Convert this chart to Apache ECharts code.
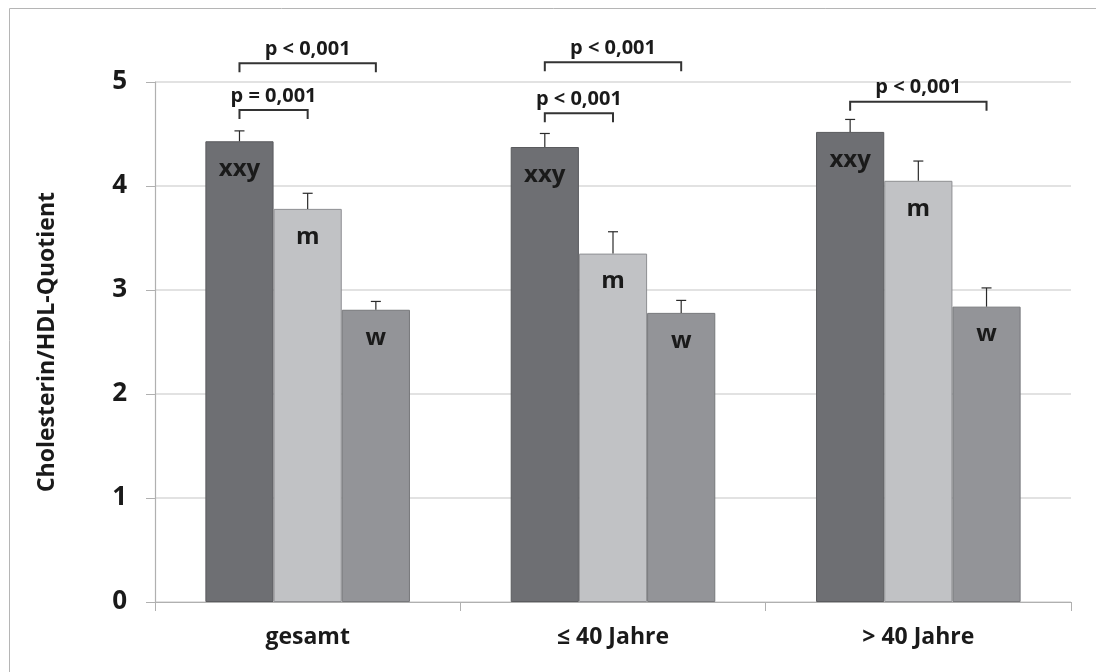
<!DOCTYPE html>
<html><head><meta charset="utf-8">
<script src="https://cdn.jsdelivr.net/npm/echarts@6/dist/echarts.min.js"></script>
<style>html,body{margin:0;padding:0;background:#fff}#c{width:1096px;height:672px}</style>
</head><body><div id="c"></div>
<script>
const categories = ['gesamt', '≤ 40 Jahre', '> 40 Jahre'];
const groupNames = ['xxy', 'm', 'w'];
const xxyValues = [4.43, 4.375, 4.52];
const mValues = [3.78, 3.35, 4.05];
const wValues = [2.81, 2.78, 2.84];
const xxyErr = [0.10, 0.13, 0.12];
const mErr = [0.15, 0.21, 0.19];
const wErr = [0.08, 0.12, 0.18];
const yTicks = [0, 1, 2, 3, 4, 5];
// brackets: [category index, from bar index, to bar index, y value, label]
const brackets = [
  [0, 0, 2, 5.18, 'p < 0,001'],
  [0, 0, 1, 4.73, 'p = 0,001'],
  [1, 0, 2, 5.19, 'p < 0,001'],
  [1, 0, 1, 4.70, 'p < 0,001'],
  [2, 0, 2, 4.81, 'p < 0,001']
];

const FONT = '"Open Sans"';
const colors = ['#6e6f73', '#c1c2c5', '#939498'];
const borders = ['#5a5b5e', '#8e8f92', '#77787b'];
const valueSets = [xxyValues, mValues, wValues];
const errSets = [xxyErr, mErr, wErr];
const CAT_GAP = 0.33;

function barCenter(api, cat, idx) {
  const c = api.coord([cat, 0])[0];
  const band = api.size([1, 0])[0];
  const bw = band * (1 - CAT_GAP) / 3;
  return c + (idx - 1) * bw;
}

const series = [];
valueSets.forEach((vals, i) => {
  series.push({
    type: 'bar', name: groupNames[i], data: vals,
    barGap: '0%', barCategoryGap: (CAT_GAP * 100) + '%',
    itemStyle: { color: colors[i], borderColor: borders[i], borderWidth: 1 },
    label: {
      show: true, position: 'insideTop', distance: 16,
      formatter: groupNames[i], fontFamily: FONT, fontWeight: 'bold',
      fontSize: 24, color: '#1a1a1a'
    },
    z: 2
  });
});
valueSets.forEach((vals, i) => {
  series.push({
    type: 'custom', name: 'err' + i, clip: false, z: 3,
    data: vals.map((v, k) => [k, v, v + errSets[i][k]]),
    renderItem: function (params, api) {
      const cat = api.value(0);
      const x = barCenter(api, cat, i);
      const y0 = api.coord([cat, api.value(1)])[1];
      const y1 = api.coord([cat, api.value(2)])[1];
      const st = { stroke: '#2a2a2a', lineWidth: 1.2 };
      return { type: 'group', children: [
        { type: 'line', shape: { x1: x, y1: y0, x2: x, y2: y1 }, style: st },
        { type: 'line', shape: { x1: x - 5, y1: y1, x2: x + 5, y2: y1 }, style: st }
      ]};
    }
  });
});
series.push({
  type: 'custom', name: 'brackets', clip: false, z: 4,
  data: brackets.map(b => [b[0], b[1], b[2], b[3], b[4]]),
  renderItem: function (params, api) {
    const b = brackets[params.dataIndex];
    const cat = b[0];
    const xa = barCenter(api, cat, b[1]);
    const xb = barCenter(api, cat, b[2]);
    const y = api.coord([cat, b[3]])[1];
    const st = { stroke: '#333333', lineWidth: 2, fill: null };
    return { type: 'group', children: [
      { type: 'polyline', shape: { points: [[xa, y + 9], [xa, y], [xb, y], [xb, y + 9]] }, style: st },
      { type: 'text', style: { x: (xa + xb) / 2, y: y - 4, text: b[4], textAlign: 'center', textVerticalAlign: 'bottom',
        fontFamily: FONT, fontWeight: 'bold', fontSize: 20, fill: '#1a1a1a' } }
    ]};
  }
});

const chart = echarts.init(document.getElementById('c'));
chart.setOption({
  animation: false,
  graphic: [{ type: 'rect', shape: { x: 9.5, y: 8.5, width: 1200, height: 800 },
    style: { fill: null, stroke: '#b5b5b5', lineWidth: 1 }, silent: true, z: -10 }],
  grid: { left: 155, right: 25, top: 82, bottom: 70 },
  xAxis: {
    type: 'category', data: categories,
    axisLine: { lineStyle: { color: '#b0b0b0', width: 1.2 } },
    axisTick: { show: true, length: 9, lineStyle: { color: '#b0b0b0' } },
    axisLabel: { fontFamily: FONT, fontWeight: 'bold', fontSize: 23, color: '#1a1a1a', margin: 24 }
  },
  yAxis: {
    type: 'value', min: yTicks[0], max: yTicks[yTicks.length - 1], interval: 1,
    name: 'Cholesterin/HDL-Quotient', nameLocation: 'middle', nameGap: 96, nameRotate: 90,
    nameTextStyle: { fontFamily: FONT, fontWeight: 'bold', fontSize: 23, color: '#1a1a1a' },
    axisLine: { show: true, lineStyle: { color: '#b0b0b0', width: 1.2 } },
    axisTick: { show: true, length: 9, lineStyle: { color: '#b0b0b0' } },
    axisLabel: { fontFamily: FONT, fontWeight: 'bold', fontSize: 26, color: '#1a1a1a', margin: 28 },
    splitLine: { lineStyle: { color: '#d9d9d9', width: 1.5 } }
  },
  series: series
});
</script></body></html>
